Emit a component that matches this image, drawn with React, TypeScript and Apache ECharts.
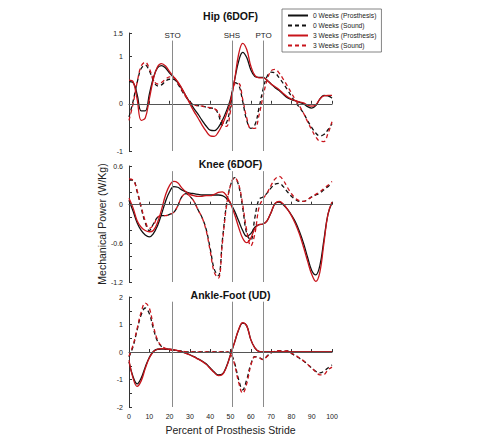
import React, { useEffect, useRef } from "react";
import * as echarts from "echarts";

// Percent of prosthesis stride at which each curve is sampled
const stride = [
  0, 2, 4, 6, 8, 10, 12, 14, 16, 18, 20, 22, 24, 26, 28, 30, 32, 34, 36, 38, 40, 42, 44, 46, 48, 50,
  52, 54, 56, 58, 60, 62, 64, 66, 68, 70, 72, 74, 76, 78, 80, 82, 84, 86, 88, 90, 92, 94, 96, 98, 100,
];

const seriesNames = ["0 Weeks (Prosthesis)", "0 Weeks (Sound)", "3 Weeks (Prosthesis)", "3 Weeks (Sound)"];

// Hip (6DOF) mechanical power, W/Kg
const hip0wProsthesis = [
  0.47, 0.45, 0.2, -0.15, -0.15, 0.2, 0.55, 0.76, 0.81, 0.76, 0.65, 0.56, 0.45, 0.32, 0.17, 0.03, -0.1,
  -0.22, -0.35, -0.47, -0.56, -0.57, -0.5, -0.35, -0.15, 0.1, 0.5, 0.9, 1.09, 0.98, 0.72, 0.58, 0.56,
  0.56, 0.5, 0.42, 0.34, 0.28, 0.2, 0.13, 0.09, 0.06, 0.03, 0.0, -0.06, -0.09, -0.04, 0.1, 0.18, 0.17, 0.12,
];
const hip0wSound = [
  -0.28, 0.05, 0.45, 0.75, 0.82, 0.7, 0.5, 0.38, 0.4, 0.48, 0.52, 0.52, 0.42, 0.28, 0.15, 0.04, -0.02,
  -0.04, -0.05, -0.07, -0.09, -0.1, -0.22, -0.45, -0.4, -0.05, 0.45, 0.4, 0.05, -0.35, -0.52, -0.45, -0.1,
  0.3, 0.58, 0.67, 0.65, 0.55, 0.43, 0.3, 0.16, 0.03, -0.08, -0.2, -0.36, -0.5, -0.62, -0.68, -0.65, -0.55, -0.42,
];
const hip3wProsthesis = [
  0.5, 0.47, 0.1, -0.35, -0.3, 0.1, 0.52, 0.78, 0.85, 0.8, 0.68, 0.57, 0.47, 0.33, 0.17, 0.0, -0.16, -0.3,
  -0.45, -0.58, -0.68, -0.69, -0.6, -0.44, -0.22, 0.05, 0.5, 1.05, 1.28, 1.15, 0.8, 0.6, 0.55, 0.55, 0.5,
  0.42, 0.36, 0.3, 0.22, 0.15, 0.1, 0.07, 0.04, 0.02, -0.03, -0.05, -0.02, 0.1, 0.17, 0.18, 0.18,
];
const hip3wSound = [
  -0.35, 0.0, 0.45, 0.8, 0.88, 0.75, 0.52, 0.42, 0.45, 0.52, 0.57, 0.56, 0.45, 0.3, 0.15, 0.03, -0.02,
  -0.04, -0.05, -0.07, -0.08, -0.1, -0.18, -0.38, -0.48, -0.15, 0.42, 0.43, 0.1, -0.3, -0.52, -0.52, -0.25,
  0.15, 0.5, 0.7, 0.73, 0.65, 0.52, 0.38, 0.23, 0.08, -0.05, -0.2, -0.38, -0.55, -0.7, -0.79, -0.8, -0.63, -0.38,
];

// Knee (6DOF) mechanical power, W/Kg
const knee0wProsthesis = [
  0.07, -0.1, -0.28, -0.4, -0.47, -0.5, -0.45, -0.33, -0.15, 0.05, 0.2, 0.28, 0.27, 0.23, 0.2, 0.18, 0.17,
  0.16, 0.15, 0.15, 0.15, 0.15, 0.15, 0.14, 0.1, 0.02, -0.1, -0.25, -0.4, -0.49, -0.45, -0.35, -0.31, -0.3,
  -0.25, -0.12, 0.02, 0.04, 0.0, -0.07, -0.16, -0.27, -0.42, -0.6, -0.82, -1.02, -1.09, -0.95, -0.55, -0.15, 0.03,
];
const knee0wSound = [
  0.38, 0.38, 0.2, -0.05, -0.28, -0.4, -0.3, -0.2, -0.17, -0.17, -0.15, -0.12, -0.02, 0.12, 0.17, 0.13, 0.05,
  -0.08, -0.2, -0.38, -0.68, -1.0, -1.1, -0.55, 0.0, 0.3, 0.42, 0.3, -0.05, -0.45, -0.55, -0.2, 0.08, 0.12,
  0.18, 0.26, 0.32, 0.33, 0.28, 0.2, 0.13, 0.08, 0.05, 0.05, 0.08, 0.12, 0.15, 0.18, 0.23, 0.28, 0.33,
];
const knee3wProsthesis = [
  0.1, -0.05, -0.25, -0.35, -0.4, -0.42, -0.4, -0.28, -0.08, 0.15, 0.3, 0.36, 0.34, 0.26, 0.2, 0.16, 0.14,
  0.13, 0.13, 0.14, 0.14, 0.16, 0.19, 0.2, 0.14, 0.02, -0.15, -0.35, -0.52, -0.59, -0.52, -0.37, -0.31, -0.3,
  -0.25, -0.12, 0.02, 0.05, 0.01, -0.07, -0.17, -0.3, -0.46, -0.66, -0.88, -1.08, -1.19, -1.05, -0.6, -0.15, 0.04,
];
const knee3wSound = [
  0.4, 0.38, 0.22, -0.03, -0.25, -0.37, -0.32, -0.2, -0.17, -0.17, -0.15, -0.12, -0.02, 0.12, 0.17, 0.13, 0.05,
  -0.08, -0.2, -0.4, -0.72, -1.05, -1.14, -0.6, -0.03, 0.3, 0.42, 0.32, 0.0, -0.4, -0.64, -0.45, -0.05, 0.09,
  0.18, 0.3, 0.4, 0.44, 0.38, 0.27, 0.17, 0.1, 0.06, 0.05, 0.08, 0.12, 0.16, 0.2, 0.25, 0.3, 0.36,
];

// Ankle-Foot (UD) mechanical power, W/Kg
const ankle0wProsthesis = [
  -0.36, -0.9, -1.16, -0.95, -0.55, -0.2, 0.02, 0.1, 0.11, 0.1, 0.1, 0.08, 0.05, 0.01, -0.04, -0.1, -0.17,
  -0.25, -0.33, -0.43, -0.58, -0.73, -0.83, -0.8, -0.53, -0.1, 0.35, 0.8, 1.05, 0.95, 0.45, 0.15, 0.02, 0,
  0, 0, 0, 0, 0, 0, 0, 0, 0, 0, 0, 0, 0, 0, 0, 0, 0,
];
const ankle0wSound = [
  -0.18, 0.2, 0.8, 1.35, 1.6, 1.4, 0.85, 0.4, 0.2, 0.12, 0.08, 0.07, 0.05, 0.03, 0.01, 0, 0, 0, 0, 0, 0,
  0, 0, 0, 0, -0.05, -0.4, -1.0, -1.38, -1.0, -0.45, -0.17, -0.2, -0.27, -0.15, -0.03, 0.03, 0.05, 0.03,
  0.04, -0.05, -0.14, -0.23, -0.33, -0.45, -0.58, -0.7, -0.76, -0.7, -0.58, -0.47,
];
const ankle3wProsthesis = [
  -0.3, -0.95, -1.25, -1.05, -0.6, -0.22, 0.01, 0.1, 0.12, 0.11, 0.1, 0.08, 0.05, 0.0, -0.05, -0.11, -0.18,
  -0.26, -0.34, -0.45, -0.6, -0.75, -0.86, -0.82, -0.55, -0.1, 0.35, 0.82, 1.07, 0.95, 0.45, 0.15, 0.02, 0,
  0, 0, 0, 0, 0, 0, 0, 0, 0, 0, 0, 0, 0, 0, 0, 0, 0,
];
const ankle3wSound = [
  -0.15, 0.25, 0.85, 1.45, 1.78, 1.6, 0.95, 0.45, 0.22, 0.13, 0.08, 0.06, 0.05, 0.03, 0.01, 0, 0, 0, 0, 0,
  0, 0, 0, 0, 0, -0.05, -0.45, -1.1, -1.5, -1.15, -0.5, -0.18, -0.2, -0.28, -0.16, -0.03, 0.03, 0.05, 0.02,
  0.05, -0.04, -0.12, -0.22, -0.32, -0.45, -0.58, -0.72, -0.83, -0.82, -0.65, -0.55,
];

// Gait events (percent of prosthesis stride)
const gaitEvents = [
  { name: "STO", x: 21.5 },
  { name: "SHS", x: 50.7 },
  { name: "PTO", x: 66.3 },
];

const hipTickLabels = [-1, 0, 1, 1.5];
const kneeTickLabels = [-1.2, -0.6, 0, 0.6];
const ankleTickLabels = [-2, -1, 0, 1, 2];
const strideTickLabels = [0, 10, 20, 30, 40, 50, 60, 70, 80, 90, 100];

const FONT = '"Liberation Sans", Arial, Helvetica, sans-serif';
const BLACK = "#111111";
const RED = "#c8141b";
const AXIS = "#333333";
const TEXT = "#222222";

const panels = [
  {
    title: "Hip (6DOF)",
    series: [hip0wProsthesis, hip0wSound, hip3wProsthesis, hip3wSound],
    min: -1, max: 1.5, interval: 0.5, labels: hipTickLabels,
    top: 33, height: 118, titleY: 16, eventTop: 1.34, showEventNames: true,
  },
  {
    title: "Knee (6DOF)",
    series: [knee0wProsthesis, knee0wSound, knee3wProsthesis, knee3wSound],
    min: -1.2, max: 0.6, interval: 0.2, labels: kneeTickLabels,
    top: 166, height: 116, titleY: 164, eventTop: 0.52, showEventNames: false,
  },
  {
    title: "Ankle-Foot (UD)",
    series: [ankle0wProsthesis, ankle0wSound, ankle3wProsthesis, ankle3wSound],
    min: -2, max: 2, interval: 0.5, labels: ankleTickLabels,
    top: 297, height: 116, titleY: 295, eventTop: 1.83, showEventNames: false,
  },
];

const styles = [
  { color: BLACK, type: "solid" },
  { color: BLACK, type: [4, 3] },
  { color: RED, type: "solid" },
  { color: RED, type: [4, 3] },
];

const GRID_LEFT = 129;
const GRID_WIDTH = 203;

function buildOption() {
  const grid = panels.map((p) => ({ left: GRID_LEFT, width: GRID_WIDTH, top: p.top, height: p.height }));

  const xAxis = panels.map((p, i) => ({
    type: "value",
    gridIndex: i,
    min: 0,
    max: 100,
    interval: 10,
    axisLine: { lineStyle: { color: AXIS, width: 1 } },
    axisTick: { inside: true, length: 3, lineStyle: { color: AXIS } },
    axisLabel: {
      show: i === panels.length - 1,
      fontSize: 7,
      color: TEXT,
      fontFamily: FONT,
      margin: 6,
      formatter: (v: number) => (strideTickLabels.includes(Math.round(v)) ? String(Math.round(v)) : ""),
    },
    splitLine: { show: false },
    name: i === panels.length - 1 ? "Percent of Prosthesis Stride" : "",
    nameLocation: "middle",
    nameGap: 17,
    nameTextStyle: { fontSize: 10.5, color: TEXT, fontFamily: FONT },
  }));

  const yAxis = panels.map((p, i) => ({
    type: "value",
    gridIndex: i,
    min: p.min,
    max: p.max,
    interval: p.interval,
    axisLine: { show: true, lineStyle: { color: AXIS, width: 1 } },
    axisTick: { show: true, inside: true, length: 3, lineStyle: { color: AXIS } },
    axisLabel: {
      fontSize: 7,
      color: TEXT,
      fontFamily: FONT,
      margin: 6,
      formatter: (v: number) => {
        const hit = p.labels.find((l) => Math.abs(l - v) < 1e-6);
        return hit === undefined ? "" : String(hit);
      },
    },
    splitLine: { show: false },
    name: i === 1 ? "Mechanical Power (W/Kg)" : "",
    nameLocation: "middle",
    nameGap: 22,
    nameTextStyle: { fontSize: 10.5, color: TEXT, fontFamily: FONT },
  }));

  const series: any[] = [];
  panels.forEach((p, i) => {
    // zero line and gait-event markers
    series.push({
      type: "line",
      xAxisIndex: i,
      yAxisIndex: i,
      data: [],
      silent: true,
      z: 1,
      markLine: {
        silent: true,
        symbol: "none",
        animation: false,
        label: { show: false },
        data: [
          [
            { coord: [0, 0], lineStyle: { color: "#555", width: 1, type: "solid" } },
            { coord: [100, 0] },
          ],
          ...gaitEvents.map((e) => [
            { coord: [e.x, p.min], lineStyle: { color: "#8a8a8a", width: 1, type: "solid" } },
            {
              coord: [e.x, p.eventTop],
              label: {
                show: p.showEventNames,
                formatter: e.name,
                position: "end",
                distance: 1,
                fontSize: 8,
                color: TEXT,
                fontFamily: FONT,
              },
            },
          ]),
        ],
      },
    });
    p.series.forEach((vals, k) => {
      series.push({
        type: "line",
        name: seriesNames[k],
        xAxisIndex: i,
        yAxisIndex: i,
        data: stride.map((x, j) => [x, vals[j]]),
        smooth: 0.4,
        symbol: "none",
        showSymbol: false,
        z: k >= 2 ? 3 : 2,
        lineStyle: { color: styles[k].color, width: 1.3, type: styles[k].type },
        itemStyle: { color: styles[k].color },
      });
    });
  });

  return {
    animation: false,
    backgroundColor: "#ffffff",
    textStyle: { fontFamily: FONT },
    grid,
    xAxis,
    yAxis,
    legend: {
      data: seriesNames,
      orient: "vertical",
      left: 282,
      top: 9,
      itemWidth: 20,
      itemHeight: 8,
      itemGap: 3,
      padding: [3, 5, 3, 5],
      borderColor: "#666",
      borderWidth: 0.8,
      // line-only keys: hide the marker glyph drawn over the line sample
      itemStyle: { opacity: 0 },
      textStyle: { fontSize: 6.7, color: TEXT, fontFamily: FONT },
    },
    graphic: panels.map((p) => ({
      type: "text",
      x: GRID_LEFT + GRID_WIDTH / 2,
      y: p.titleY,
      style: {
        text: p.title,
        fontSize: 10.5,
        fontWeight: "bold",
        fontFamily: FONT,
        fill: "#111",
        textAlign: "center",
        textVerticalAlign: "middle",
      },
    })),
    series,
  };
}

export default function App() {
  const ref = useRef<HTMLDivElement>(null);
  useEffect(() => {
    if (!ref.current) return;
    const chart = echarts.init(ref.current, undefined, { renderer: "svg" });
    chart.setOption(buildOption() as any);
    return () => chart.dispose();
  }, []);
  return (
    <div
      ref={ref}
      style={{ position: "fixed", left: 0, top: 0, width: 481, height: 436, background: "#fff" }}
    />
  );
}
